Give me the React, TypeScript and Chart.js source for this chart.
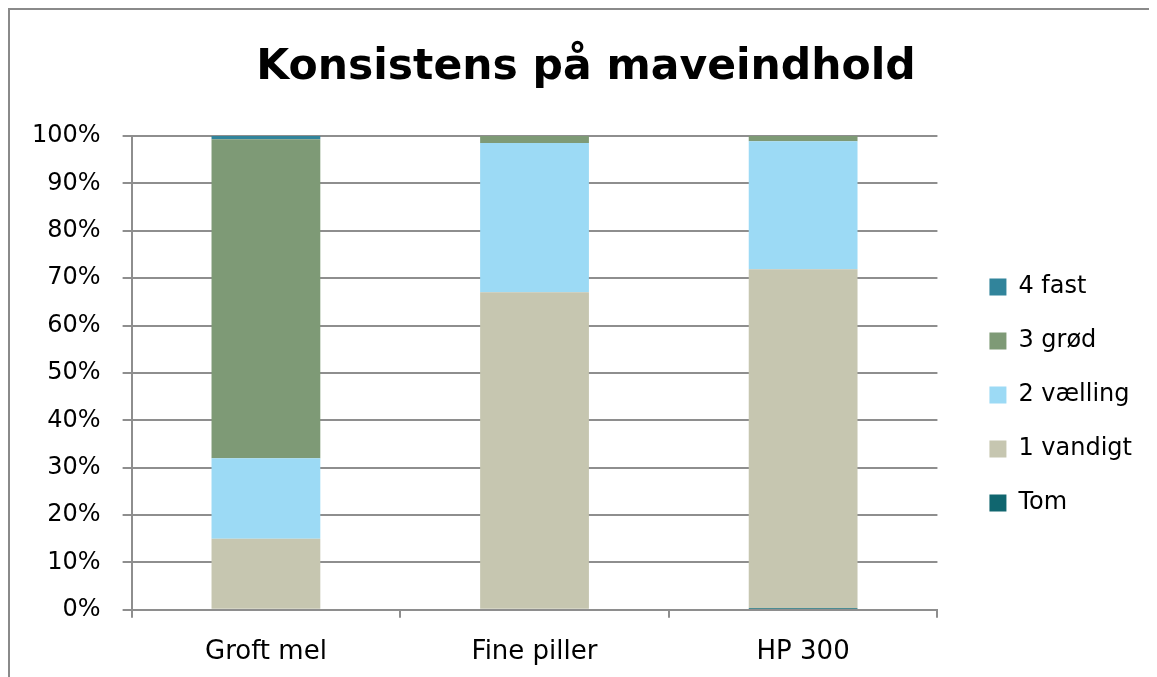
import React, { useEffect, useRef } from "react";
import { Chart, registerables } from "chart.js";

Chart.register(...registerables);

const categories = ["Groft mel", "Fine piller", "HP 300"];
const seriesNames = ["Tom", "1 vandigt", "2 vælling", "3 grød", "4 fast"];
const tomValues = [0, 0, 0.4];
const vandigtValues = [15, 67, 71.5];
const vaellingValues = [17, 31.5, 27];
const groedValues = [67.3, 1.5, 1.1];
const fastValues = [0.7, 0, 0];
const seriesColors = ["#10666F", "#C6C6B0", "#9CDAF5", "#7E9A76", "#31849B"];
const yTicks = [0, 10, 20, 30, 40, 50, 60, 70, 80, 90, 100];
const titleText = "Konsistens på maveindhold";

const FONT = "'DejaVu Sans', sans-serif";
const GRID = "#8E8E8E";
const LEGEND_EXTRA = 22;
const TITLE_SHIFT = 10;

const layoutTweaks = {
  id: "layoutTweaks",
  beforeLayout(chart: any) {
    const lg = chart.legend;
    if (lg && !lg.__patched) {
      lg.__patched = true;
      const orig = lg.fit.bind(lg);
      lg.fit = () => {
        orig();
        lg.width += LEGEND_EXTRA;
      };
      const origDraw = lg.draw.bind(lg);
      lg.draw = () => {
        const l = lg.left;
        lg.left = l + LEGEND_EXTRA;
        origDraw();
        lg.left = l;
      };
    }
    const tb = chart.titleBlock;
    if (tb && !tb.__patched) {
      tb.__patched = true;
      const origDraw = tb.draw.bind(tb);
      tb.draw = () => {
        const l = tb.left;
        const r = tb.right;
        tb.left = l + TITLE_SHIFT;
        tb.right = r + TITLE_SHIFT;
        origDraw();
        tb.left = l;
        tb.right = r;
      };
    }
  },
};

export default function App() {
  const ref = useRef<HTMLCanvasElement | null>(null);
  useEffect(() => {
    document.documentElement.style.overflow = "hidden";
    document.body.style.overflow = "hidden";
    if (!ref.current) return;
    const allValues = [tomValues, vandigtValues, vaellingValues, groedValues, fastValues];
    const chart = new Chart(ref.current, {
      type: "bar",
      data: {
        labels: categories,
        datasets: seriesNames.map((name, i) => ({
          label: name,
          data: allValues[i],
          backgroundColor: seriesColors[i],
          borderWidth: 0,
          barPercentage: 0.405,
          categoryPercentage: 1,
        })),
      },
      options: {
        animation: false,
        responsive: false,
        maintainAspectRatio: false,
        layout: { padding: { left: 0, right: 15, top: 0, bottom: 0 } },
        plugins: {
          title: {
            display: true,
            text: titleText,
            color: "#000",
            font: { family: FONT, size: 42.5, weight: "bold" },
            padding: { top: 32, bottom: 43 },
          },
          legend: {
            position: "right",
            reverse: true,
            title: {
              display: true,
              text: " ",
              font: { family: FONT, size: 10 },
              padding: { top: 81, bottom: 0 },
            },
            labels: {
              boxWidth: 17,
              boxHeight: 17,
              padding: 30,
              color: "#000",
              font: { family: FONT, size: 24 },
            },
          },
          tooltip: { enabled: false },
        },
        scales: {
          x: {
            stacked: true,
            grid: {
              display: true,
              drawOnChartArea: false,
              drawTicks: true,
              tickLength: 8,
              color: GRID,
              lineWidth: 2,
            },
            border: { display: true, color: GRID, width: 2 },
            ticks: {
              color: "#000",
              padding: 19,
              font: { family: FONT, size: 26 },
            },
          },
          y: {
            stacked: true,
            min: 0,
            max: 100,
            afterBuildTicks: (axis: any) => {
              axis.ticks = yTicks.map((v) => ({ value: v }));
            },
            grid: {
              color: GRID,
              lineWidth: 2,
              drawTicks: true,
              tickLength: 9,
            },
            border: { display: true, color: GRID, width: 2 },
            ticks: {
              color: "#000",
              padding: 22,
              font: { family: FONT, size: 24 },
              callback: (v: any) => v + "%",
            },
          },
        },
      },
      plugins: [layoutTweaks],
    });
    return () => chart.destroy();
  }, []);

  return (
    <div
      style={{
        borderLeft: "2px solid #8A8A8A",
        borderTop: "2px solid #8A8A8A",
        width: 1180,
        height: 677,
      }}
    >
      <canvas ref={ref} width={1147} height={677} style={{ display: "block" }} />
    </div>
  );
}
